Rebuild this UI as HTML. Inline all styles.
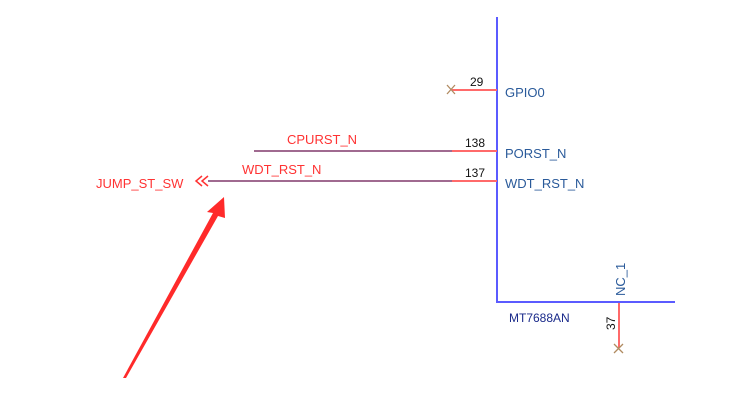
<!DOCTYPE html>
<html><head><meta charset="utf-8"><style>
html,body{margin:0;padding:0;background:#fff;width:750px;height:400px;overflow:hidden}
svg text{font-family:"Liberation Sans",Arial,sans-serif}
</style></head><body>
<svg width="750" height="400" viewBox="0 0 750 400" xmlns="http://www.w3.org/2000/svg">
<line x1="497" y1="17" x2="497" y2="302" stroke="#5b5bff" stroke-width="2"/>
<line x1="496" y1="302" x2="675" y2="302" stroke="#5b5bff" stroke-width="2"/>
<line x1="452" y1="90" x2="497" y2="90" stroke="#ff6a6a" stroke-width="2"/>
<path d="M447 85l8 9M455 85l-8 9" stroke="#b08a60" stroke-width="1.3"/>
<text x="470" y="86" font-size="12" fill="#111">29</text>
<text x="505" y="97" font-size="13" fill="#2a5a9a">GPIO0</text>
<line x1="254" y1="151" x2="452" y2="151" stroke="#a06a90" stroke-width="2"/>
<line x1="452" y1="151" x2="497" y2="151" stroke="#ff6a6a" stroke-width="2"/>
<text x="465" y="147" font-size="12" fill="#111">138</text>
<text x="505" y="158" font-size="13" fill="#2a5a9a">PORST_N</text>
<text x="287" y="144" font-size="13" fill="#ff3333">CPURST_N</text>
<line x1="208" y1="181" x2="452" y2="181" stroke="#a06a90" stroke-width="2"/>
<line x1="452" y1="181" x2="497" y2="181" stroke="#ff6a6a" stroke-width="2"/>
<text x="465" y="177" font-size="12" fill="#111">137</text>
<text x="505" y="188" font-size="13" fill="#2a5a9a">WDT_RST_N</text>
<text x="242" y="174" font-size="13" fill="#ff3333">WDT_RST_N</text>
<text x="96" y="188" font-size="13" fill="#ff3333">JUMP_ST_SW</text>
<path d="M202 176l-6 5 6 5M208 176l-6 5 6 5" stroke="#ff3333" stroke-width="1.5" fill="none"/>
<line x1="619" y1="303" x2="619" y2="348" stroke="#ff6a6a" stroke-width="2"/>
<path d="M614 344l9 9M623 344l-9 9" stroke="#b08a60" stroke-width="1.3"/>
<text transform="translate(615,330) rotate(-90)" font-size="12" fill="#111">37</text>
<text transform="translate(625,296) rotate(-90)" font-size="13" fill="#2a5a9a">NC_1</text>
<text x="509" y="322" font-size="12" fill="#1a2a8a">MT7688AN</text>
<path d="M224 197L207 212L213 213L123 378L126 378L218 216L225 218Z" fill="#ff2a2a"/>
</svg>
</body></html>
